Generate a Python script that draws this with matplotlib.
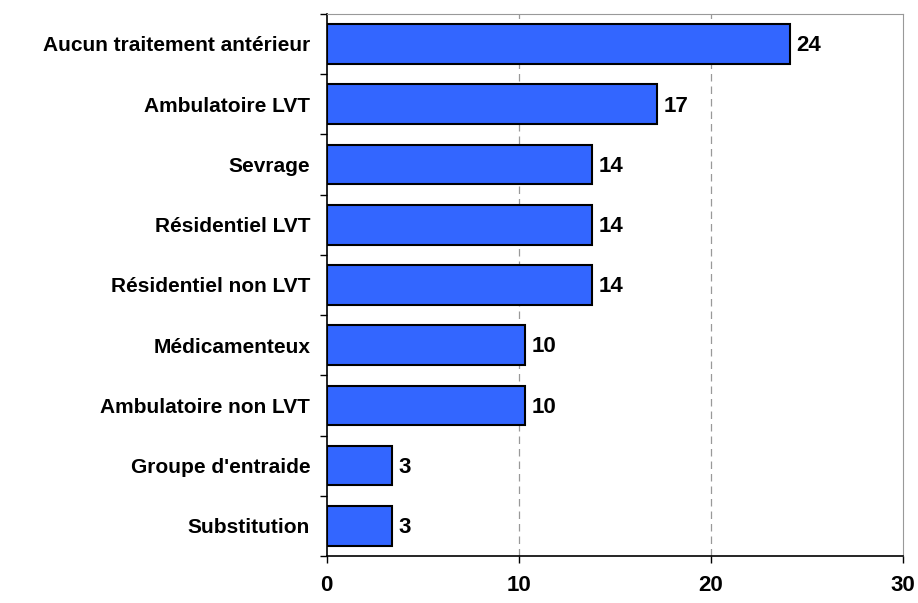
import matplotlib.pyplot as plt
import numpy as np

plt.rcParams['font.family'] = ['Liberation Sans', 'DejaVu Sans']

categories = ['Aucun traitement antérieur', 'Ambulatoire LVT', 'Sevrage',
              'Résidentiel LVT', 'Résidentiel non LVT', 'Médicamenteux',
              'Ambulatoire non LVT', "Groupe d'entraide", 'Substitution']
values = [24.1, 17.2, 13.8, 13.8, 13.8, 10.3, 10.3, 3.4, 3.4]
labels = ['24', '17', '14', '14', '14', '10', '10', '3', '3']

fig = plt.figure(figsize=(9.18, 6.03), dpi=100)
ax = fig.add_axes([0.356, 0.078, 0.6277, 0.899])

y = np.arange(len(categories))
ax.barh(y, values, height=0.66, color='#3366FF', edgecolor='black', linewidth=1.5, zorder=3)
for yi, v, lab in zip(y, values, labels):
    ax.text(v + 0.35, yi + 0.03, lab, va='center', ha='left', fontsize=16, fontweight='bold')

ax.set_xlim(0, 30)
ax.set_ylim(len(categories) - 0.5, -0.5)
ax.set_xticks([0, 10, 20, 30])
ax.set_xticklabels(['0', '10', '20', '30'], fontsize=16, fontweight='bold')
ax.tick_params(axis='x', direction='out', length=5, width=1, pad=9)

ax.set_yticks(y)
ax.set_yticklabels(categories, fontsize=15, fontweight='bold')
ax.tick_params(axis='y', length=0, pad=12)
ax.set_yticks(np.arange(-0.5, len(categories)), minor=True)
ax.tick_params(axis='y', which='minor', direction='out', length=5, width=1)

for xv in [10, 20]:
    ax.axvline(xv, color='#999999', linestyle=(0, (6, 4)), linewidth=0.9, zorder=1)

ax.spines['top'].set_color('#999999')
ax.spines['right'].set_color('#999999')
ax.spines['left'].set_linewidth(1.2)
ax.spines['bottom'].set_linewidth(1.2)

fig.savefig('out.png', dpi=100)
